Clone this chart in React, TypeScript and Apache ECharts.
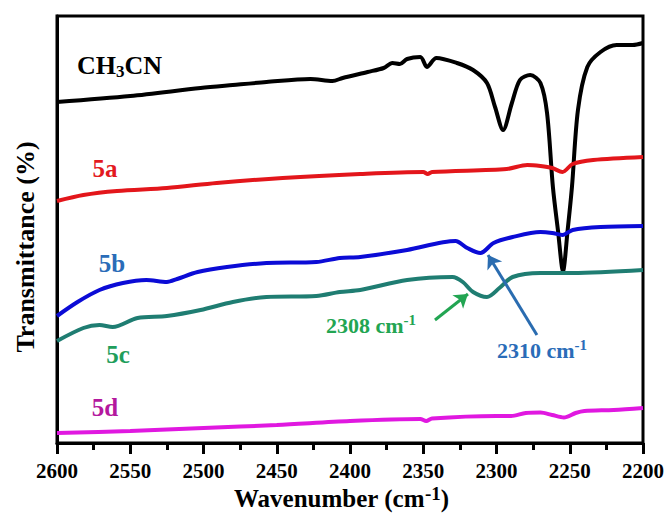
import React, { useEffect, useRef } from "react";
import * as echarts from "echarts";

// Wavenumber (cm-1) positions and transmittance (arbitrary, offset) values per sample
const ch3cnWn = [2600, 2550, 2502, 2480, 2457, 2427, 2412, 2405, 2388, 2377, 2371, 2366, 2361, 2352, 2347.5, 2341, 2327, 2316, 2306.5, 2301, 2295.5, 2289.5, 2284, 2277, 2270, 2265.5, 2261.5, 2258, 2254.6, 2251.5, 2248.5, 2244.4, 2238, 2229, 2218, 2207, 2200];
const ch3cnT = [341, 347, 355, 358, 361, 364, 362, 365, 371, 375, 380, 379, 384, 386, 376, 385, 380, 373, 360, 336, 313, 340, 363, 368, 360, 330, 256, 212, 172, 212, 256, 333, 376, 391, 398, 398, 400];

const s5aWn = [2600, 2582, 2559, 2525, 2491, 2446, 2393, 2350, 2347, 2344, 2293, 2279, 2270, 2262, 2255, 2248, 2234, 2200];
const s5aT = [242, 248, 252, 255, 260, 265, 269, 271, 269, 271, 274, 278, 277, 275, 271, 279, 283, 286];

const s5bWn = [2600, 2586, 2571, 2555, 2539, 2525, 2518, 2504, 2484, 2457, 2423, 2407, 2393, 2361, 2328, 2320, 2311, 2302, 2289, 2270, 2262, 2255, 2248, 2229, 2200];
const s5bT = [127, 141, 153, 160, 163, 161, 164, 171, 176, 180, 181, 185, 186, 193, 202, 195, 190, 200, 206, 211, 210, 208, 213, 216, 217];

const s5cWn = [2600, 2582, 2571, 2562, 2545, 2525, 2502, 2480, 2457, 2423, 2407, 2393, 2361, 2330, 2323, 2316, 2306.5, 2298, 2289, 2270, 2248, 2200];
const s5cT = [102, 115, 118, 116, 125, 127, 133, 141, 146, 147, 151, 153, 163, 166, 161, 151, 146, 155, 166, 170, 170, 173];

const s5dWn = [2600, 2550, 2500, 2450, 2400, 2352, 2348, 2344, 2300, 2290, 2280, 2270, 2262, 2254, 2246, 2240, 2220, 2200];
const s5dT = [10, 12, 15, 18, 22, 24, 22, 24.5, 27, 27, 30, 30.5, 28, 25.5, 30, 32, 33, 35];

const xTicks = [2600, 2550, 2500, 2450, 2400, 2350, 2300, 2250, 2200];

// annotation arrows in data coordinates: [tail, head]
const arrow2308 = [[2342, 123], [2319.5, 149]];
const arrow2310 = [[2272.4, 108], [2305.8, 188]];

const zip = (xs: number[], ys: number[]) => xs.map((x, i) => [x, ys[i]]);

const FONT = "'Liberation Serif', 'Times New Roman', serif";

export default function App() {
  const ref = useRef<HTMLDivElement>(null);
  useEffect(() => {
    if (!ref.current) return;
    const chart = echarts.init(ref.current, undefined, { renderer: "svg" });
    const lineSeries = (name: string, data: number[][], color: string, extra: any = {}) => ({
      name,
      type: "line",
      data,
      showSymbol: false,
      smooth: 0.3,
      lineStyle: { color, width: 4 },
      itemStyle: { color },
      ...extra,
    });
    const arrowMark = (pts: number[][], color: string) => ({
      silent: true,
      symbol: ["none", "arrow"],
      symbolSize: 13,
      label: { show: false },
      lineStyle: { color, width: 3, type: "solid" },
      itemStyle: { color },
      data: [[{ coord: pts[0] }, { coord: pts[1] }]],
    });
    chart.setOption({
      animation: false,
      backgroundColor: "#fff",
      grid: {
        left: 57,
        right: 24,
        top: 16,
        bottom: 72,
        show: true,
        borderColor: "#000",
        borderWidth: 3,
      },
      xAxis: {
        type: "value",
        min: 2200,
        max: 2600,
        interval: 50,
        inverse: true,
        axisLine: { show: true, lineStyle: { color: "#000", width: 3 } },
        axisTick: { show: true, inside: false, length: 11, lineStyle: { color: "#000", width: 3 } },
        minorTick: { show: true, splitNumber: 2, length: 7, lineStyle: { color: "#000", width: 3 } },
        splitLine: { show: false },
        axisLabel: {
          margin: 17,
          color: "#000",
          fontFamily: FONT,
          fontWeight: "bold",
          fontSize: 21,
          formatter: (v: number) => (xTicks.includes(v) ? String(v) : ""),
        },
      },
      yAxis: {
        type: "value",
        min: 0,
        max: 427,
        axisLine: { show: true, lineStyle: { color: "#000", width: 3 } },
        axisTick: { show: false },
        axisLabel: { show: false },
        splitLine: { show: false },
      },
      series: [
        lineSeries("CH3CN", zip(ch3cnWn, ch3cnT), "#000000"),
        lineSeries("5a", zip(s5aWn, s5aT), "#e3161b"),
        lineSeries("5b", zip(s5bWn, s5bT), "#0b0bd6", { markLine: arrowMark(arrow2310, "#2a6cb0") }),
        lineSeries("5c", zip(s5cWn, s5cT), "#1f7d72", { markLine: arrowMark(arrow2308, "#22a552") }),
        lineSeries("5d", zip(s5dWn, s5dT), "#e018e0"),
      ],
      graphic: [
        {
          type: "text",
          left: 77,
          top: 52,
          style: {
            text: "{a|CH}{b|3}{a|CN}",
            rich: {
              a: { fontSize: 26, fontWeight: "bold", fontFamily: FONT, fill: "#000", lineHeight: 30 },
              b: { fontSize: 17, fontWeight: "bold", fontFamily: FONT, fill: "#000", lineHeight: 10, verticalAlign: "bottom" },
            },
          },
        },
        { type: "text", x: 105, y: 168, style: { text: "5a", fill: "#e31a1f", font: `bold 25px ${FONT}`, align: "center", verticalAlign: "middle" } },
        { type: "text", x: 112, y: 263, style: { text: "5b", fill: "#2a6cb8", font: `bold 25px ${FONT}`, align: "center", verticalAlign: "middle" } },
        { type: "text", x: 118, y: 354, style: { text: "5c", fill: "#1f9e5c", font: `bold 25px ${FONT}`, align: "center", verticalAlign: "middle" } },
        { type: "text", x: 105, y: 407, style: { text: "5d", fill: "#b4189e", font: `bold 25px ${FONT}`, align: "center", verticalAlign: "middle" } },
        {
          type: "text",
          left: 326,
          top: 312,
          style: {
            text: "{a|2308 cm}{s|-1}",
            rich: {
              a: { fontSize: 22, fontWeight: "bold", fontFamily: FONT, fill: "#22a552", lineHeight: 26 },
              s: { fontSize: 15, fontWeight: "bold", fontFamily: FONT, fill: "#22a552", lineHeight: 12, verticalAlign: "top" },
            },
          },
        },
        {
          type: "text",
          left: 497,
          top: 337,
          style: {
            text: "{a|2310 cm}{s|-1}",
            rich: {
              a: { fontSize: 22, fontWeight: "bold", fontFamily: FONT, fill: "#2a6cb8", lineHeight: 26 },
              s: { fontSize: 15, fontWeight: "bold", fontFamily: FONT, fill: "#2a6cb8", lineHeight: 12, verticalAlign: "top" },
            },
          },
        },
        {
          type: "text",
          x: 25,
          y: 247,
          rotation: Math.PI / 2,
          style: { text: "Transmittance (%)", fill: "#000", font: `bold 26px ${FONT}`, align: "center", verticalAlign: "middle" },
        },
        {
          type: "text",
          left: 234,
          top: 484,
          style: {
            text: "{a|Wavenumber (cm}{s|-1}{a|)}",
            rich: {
              a: { fontSize: 25, fontWeight: "bold", fontFamily: FONT, fill: "#000", lineHeight: 28 },
              s: { fontSize: 19, fontWeight: "bold", fontFamily: FONT, fill: "#000", lineHeight: 16, verticalAlign: "top" },
            },
          },
        },
      ],
    });
    return () => chart.dispose();
  }, []);
  return <div ref={ref} style={{ width: 667, height: 515, position: "absolute", left: 0, top: 0 }} />;
}
